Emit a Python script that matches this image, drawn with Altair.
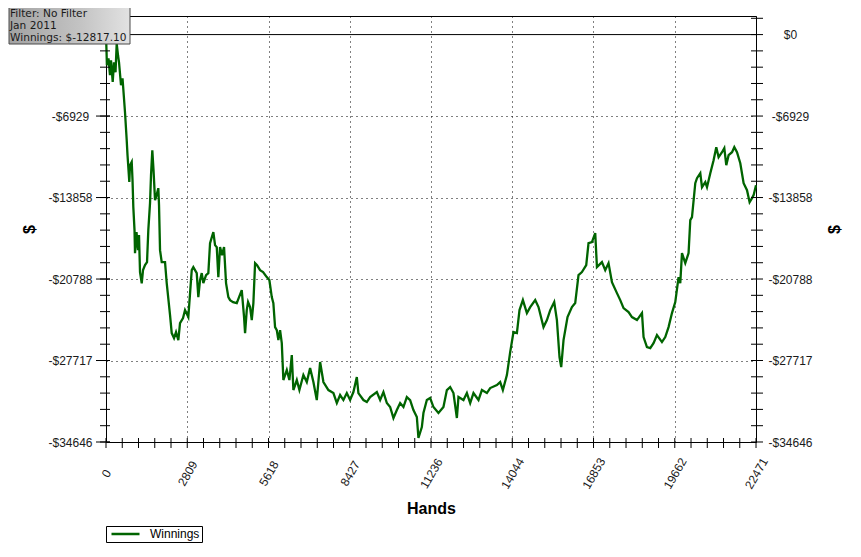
import altair as alt
import pandas as pd

# ---------------- data ----------------
hands = [0, 17, 31, 86, 138, 173, 232, 277, 329, 370,
         415, 450, 519, 571, 657, 716, 744, 806, 830, 889,
         917, 944, 986, 1003, 1055, 1107, 1141, 1176, 1235, 1280,
         1349, 1418, 1463, 1522, 1556, 1601, 1643, 1695, 1747, 1809,
         1833, 1868, 1926, 2041, 2099, 2214, 2272, 2352, 2421, 2501,
         2559, 2663, 2732, 2846, 2964, 3019, 3137, 3192, 3251, 3310,
         3365, 3459, 3538, 3597, 3711, 3770, 3829, 3884, 3943, 4012,
         4081, 4150, 4230, 4289, 4393, 4521, 4600, 4693, 4773, 4808,
         4866, 4911, 4981, 5039, 5095, 5154, 5223, 5326, 5430, 5558,
         5648, 5731, 5786, 5845, 5904, 5959, 6018, 6077, 6132, 6250,
         6340, 6423, 6478, 6596, 6686, 6824, 6942, 7056, 7170, 7287,
         7402, 7516, 7689, 7862, 7980, 8093, 8207, 8325, 8439, 8553,
         8671, 8726, 8899, 9017, 9131, 9363, 9477, 9591, 9709, 9823,
         9937, 10055, 10169, 10283, 10400, 10514, 10628, 10746, 10801, 10919,
         10974, 11092, 11206, 11320, 11493, 11666, 11784, 11898, 12012, 12130,
         12185, 12358, 12476, 12590, 12704, 12877, 12995, 13167, 13281, 13513,
         13627, 13720, 13859, 13973, 14087, 14205, 14295, 14412, 14551, 14665,
         14838, 14952, 15125, 15243, 15357, 15495, 15588, 15678, 15737, 15817,
         15955, 16107, 16221, 16335, 16453, 16602, 16681, 16799, 16913, 16972,
         17145, 17259, 17373, 17491, 17664, 17778, 17892, 18065, 18183, 18356,
         18529, 18584, 18701, 18815, 18929, 19047, 19220, 19334, 19448, 19566,
         19680, 19794, 19853, 19912, 20026, 20140, 20199, 20258, 20372, 20431,
         20545, 20604, 20718, 20777, 20891, 21005, 21098, 21178, 21296, 21375,
         21444, 21524, 21642, 21721, 21814, 21928, 22043, 22160, 22250, 22333,
         22389, 22471]

winnings = [0, -1334, -2609, -2014, -3459, -2184, -4028, -2354, -3204, -765,
            -1759, -2354, -4308, -3714, -6603, -8982, -10257, -12526, -11107, -10826,
            -12382, -14651, -16630, -18585, -16801, -18330, -17055, -20200, -21160, -20030,
            -19605, -19350, -16630, -14336, -11957, -9832, -11532, -14081, -13656, -13061,
            -14506, -18330, -19350, -19350, -21134, -23854, -25384, -25809, -25299, -25979,
            -24534, -24109, -23429, -24024, -20030, -19775, -20285, -22324, -20880, -20285,
            -21134, -20455, -20285, -17735, -16800, -17905, -18075, -20625, -18075, -18755,
            -18075, -21134, -22324, -22579, -22749, -22834, -22324, -21730, -24024, -25384,
            -23429, -22749, -23174, -24279, -22834, -19435, -19605, -20030, -20200, -20625,
            -20880, -22324, -22834, -24874, -25129, -25979, -25129, -26234, -29378, -28528,
            -29378, -27254, -30228, -29378, -30228, -28953, -29548, -28358, -29548, -31077,
            -27848, -29548, -30228, -30483, -31332, -30653, -31077, -30483, -31077, -30398,
            -29123, -30483, -31077, -31247, -30823, -30398, -31077, -30398, -31332, -31672,
            -32607, -31927, -31332, -31672, -30823, -31077, -31927, -32522, -34307, -33372,
            -32182, -31077, -30908, -31672, -32182, -31672, -30228, -29973, -30483, -32607,
            -30823, -31077, -30483, -31332, -30483, -31077, -30228, -30483, -30058, -29803,
            -29548, -30228, -28953, -26999, -25299, -25384, -23429, -22579, -23684, -23174,
            -22579, -23174, -24874, -24279, -23429, -22749, -24279, -27423, -28273, -25979,
            -24024, -23174, -22834, -20455, -20200, -19605, -17735, -17650, -16885, -19775,
            -19350, -20030, -19435, -21050, -21985, -22579, -23259, -23599, -24024, -24279,
            -23684, -25724, -26574, -26659, -26234, -25554, -26149, -25724, -24874, -23684,
            -22749, -20625, -21134, -18585, -19435, -18585, -15781, -15526, -12636, -12211,
            -11787, -12976, -12551, -12976, -11787, -10682, -9577, -10427, -10002, -9662,
            -11107, -10257, -10002, -9577, -10002, -10937, -12636, -13231, -14251, -13911,
            -13656, -12817]

series_name = "Winnings"
x_major = [0, 2809, 5618, 8427, 11236, 14044, 16853, 19662, 22471]
y_major = [0, -6929, -13858, -20788, -27717, -34646]
y_top = 1580
info_lines = ["Filter: No Filter", "Jan 2011", "Winnings: $-12817.10"]

# ---------------- layout ----------------
W, H = 650, 426
FONT = "Liberation Sans"
GREEN = "#006400"

df = pd.DataFrame({"hands": hands, "winnings": winnings, "series": series_name})

x_scale = alt.Scale(domain=[0, x_major[-1]], nice=False, zero=False)
y_scale = alt.Scale(domain=[y_major[-1], y_top], nice=False, zero=False)

x_axis = alt.Axis(
    orient="bottom", format="d",
    values=x_major, grid=True, gridDash=[1, 4], gridColor="black", gridOpacity=1,
    domain=False, ticks=False, tickSize=0,
    labelAngle=300, labelAlign="center", labelBaseline="middle", labelPadding=31,
    labelFlush=False, labelOverlap=False,
    title="Hands", titleFontSize=16, titleFontWeight="bold",
    titleX=W / 2, titleY=66, titleAlign="center", titleBaseline="middle",
)

left_axis = alt.Axis(
    orient="left", values=y_major[1:], grid=True, gridDash=[1, 4], gridColor="black",
    gridOpacity=1, domain=False, ticks=False, tickSize=0,
    labelAlign="center", labelBaseline="middle", labelPadding=36, labelFlush=False,
    labelOverlap=False,
    labelExpr="'-$' + format(-datum.value, 'd')",
    title="$", titleAngle=270, titleX=-77, titleY=H / 2, titleAlign="center",
    titleBaseline="middle", titleFontSize=16, titleFontWeight="bold",
)

right_axis = alt.Axis(
    orient="right", values=y_major, grid=False, domain=False, ticks=False, tickSize=0,
    labelAlign="center", labelBaseline="middle", labelPadding=34, labelFlush=False,
    labelOverlap=False,
    labelExpr="datum.value == 0 ? '$0' : '-$' + format(-datum.value, 'd')",
    title="$", titleAngle=270, titleX=78, titleY=H / 2, titleAlign="center",
    titleBaseline="middle", titleFontSize=16, titleFontWeight="bold",
)

base = alt.Chart(df)

line = base.mark_line(strokeWidth=2.3).encode(
    x=alt.X("hands:Q", scale=x_scale, axis=x_axis),
    y=alt.Y("winnings:Q", scale=y_scale, axis=left_axis),
    color=alt.Color(
        "series:N",
        scale=alt.Scale(domain=[series_name], range=[GREEN]),
        legend=alt.Legend(
            orient="none", legendX=0, legendY=510, title=None,
            symbolType="stroke", symbolSize=784, symbolStrokeWidth=2.5,
            symbolOffset=2, labelOffset=9, padding=2, clipHeight=12,
            strokeColor="black", fillColor="white",
            labelFont=FONT, labelFontSize=12, labelColor="black",
        ),
    ),
)

right = base.mark_line(opacity=0).encode(
    x=alt.X("hands:Q", scale=x_scale, axis=x_axis),
    y=alt.Y("winnings:Q", scale=y_scale, axis=right_axis),
)

zero_rule = alt.Chart(pd.DataFrame({"v": [0]})).mark_rule(color="black", strokeWidth=1).encode(
    y=alt.Y("v:Q", scale=y_scale, axis=None)
)

# tick marks that cross the axis lines
x_step = (x_major[1] - x_major[0]) / 5
x_ticks = [x_step * i for i in range(41)]
y_step = (y_major[0] - y_major[1]) / 5
y_minor = [y_step * k for k in range(-25, 2)]

xt = alt.Chart(pd.DataFrame({"hands": x_ticks})).mark_rule(color="black").encode(
    x=alt.X("hands:Q", scale=x_scale, axis=x_axis), y=alt.value(H - 4), y2=alt.value(H + 6)
)
yt_left_minor = alt.Chart(pd.DataFrame({"t": y_minor})).mark_rule(color="black").encode(
    y=alt.Y("t:Q", scale=y_scale, axis=None), x=alt.value(-6), x2=alt.value(4)
)
yt_left_major = alt.Chart(pd.DataFrame({"t": y_major})).mark_rule(color="black").encode(
    y=alt.Y("t:Q", scale=y_scale, axis=None), x=alt.value(-10), x2=alt.value(4)
)
yt_right = alt.Chart(pd.DataFrame({"t": y_minor})).mark_rule(color="black").encode(
    y=alt.Y("t:Q", scale=y_scale, axis=None), x=alt.value(W - 5), x2=alt.value(W + 7)
)

# info box top-left
box = alt.Chart(pd.DataFrame({"a": [0]})).mark_rect(
    fill=alt.Gradient(
        gradient="linear", x1=0, y1=0, x2=1, y2=0,
        stops=[alt.GradientStop(color="#a2a2a2", offset=0),
               alt.GradientStop(color="#c4c4c4", offset=0.6),
               alt.GradientStop(color="#e2e2e2", offset=1)],
    ),
    stroke="#4a4a4a", strokeWidth=1,
).encode(x=alt.value(-97), x2=alt.value(24), y=alt.value(-11), y2=alt.value(28))

box_text = alt.Chart(pd.DataFrame({"a": [0]})).mark_text(
    text=info_lines, align="left", baseline="middle", font="DejaVu Sans",
    fontSize=10.6, lineHeight=12, color="#1a1a1a",
).encode(x=alt.value(-96), y=alt.value(-2))

chart = alt.layer(
    zero_rule, line, right, xt, yt_left_minor, yt_left_major, yt_right, box, box_text
).resolve_axis(y="independent").properties(
    width=W, height=H,
    autosize=alt.AutoSizeParams(type="none"),
    padding={"left": 98, "top": 8, "right": 95, "bottom": 104},
    background="white",
).configure_view(
    stroke="black", strokeWidth=1
).configure_axis(
    labelFont=FONT, labelFontSize=12, labelColor="#1a1a1a",
    titleFont=FONT, titleColor="black",
)

chart.save("out.html", embed_options={"renderer": "svg", "actions": False})
